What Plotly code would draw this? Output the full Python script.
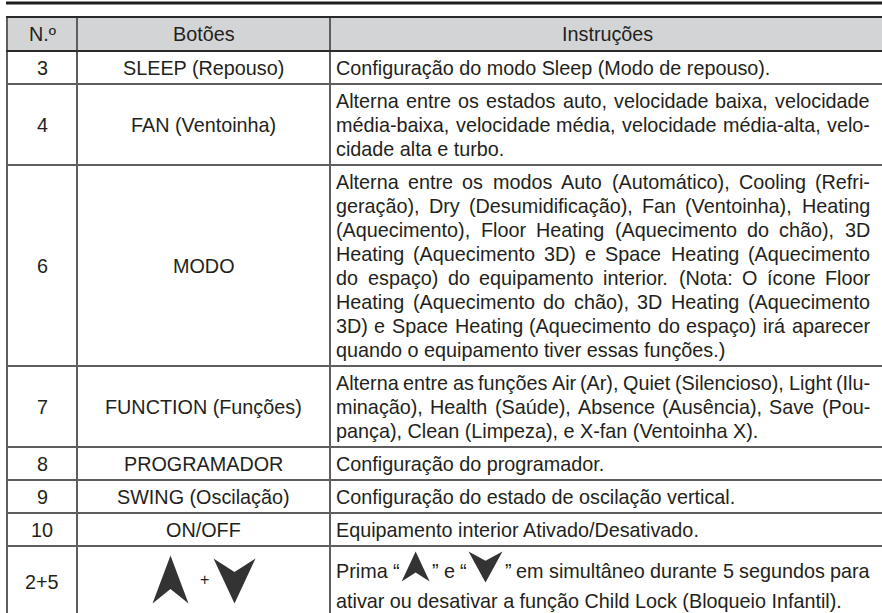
import plotly.graph_objects as go

# ---------------- data ----------------
headers = ["N.º", "Botões", "Instruções"]
numbers = ["3", "4", "6", "7", "8", "9", "10", "2+5"]
buttons = ["SLEEP (Repouso)", "FAN (Ventoinha)", "MODO", "FUNCTION (Funções)",
           "PROGRAMADOR", "SWING (Oscilação)", "ON/OFF", "{UP}+{DOWN}"]
instructions = [
    ["Configuração do modo Sleep (Modo de repouso)."],
    ["Alterna entre os estados auto, velocidade baixa, velocidade",
     "média-baixa, velocidade média, velocidade média-alta, velo-",
     "cidade alta e turbo."],
    ["Alterna entre os modos Auto (Automático), Cooling (Refri-",
     "geração), Dry (Desumidificação), Fan (Ventoinha), Heating",
     "(Aquecimento), Floor Heating (Aquecimento do chão), 3D",
     "Heating (Aquecimento 3D) e Space Heating (Aquecimento",
     "do espaço) do equipamento interior. (Nota: O ícone Floor",
     "Heating (Aquecimento do chão), 3D Heating (Aquecimento",
     "3D) e Space Heating (Aquecimento do espaço) irá aparecer",
     "quando o equipamento tiver essas funções.)"],
    ["Alterna entre as funções Air (Ar), Quiet (Silencioso), Light (Ilu-",
     "minação), Health (Saúde), Absence (Ausência), Save (Pou-",
     "pança), Clean (Limpeza), e X-fan (Ventoinha X)."],
    ["Configuração do programador."],
    ["Configuração do estado de oscilação vertical."],
    ["Equipamento interior Ativado/Desativado."],
    ["Prima “{UP}” e “{DOWN}” em simultâneo durante 5 segundos para",
     "ativar ou desativar a função Child Lock (Bloqueio Infantil)."],
]

# ---------------- style / layout constants ----------------
W, H = 882, 613
FONT = "Arial, 'Liberation Sans', Helvetica, sans-serif"
FS = 19.8
TXT = "#231f20"
GRID = "#5e5e5e"
DARK = "#2a2a2a"
HEAD_BG = "#d3d4d6"

X_LEFT, X_C1, X_C2, X_RIGHT = 7, 77, 330, 884
TXT_L, TXT_R = 336, 870
HEAD_TOP, HEAD_BOT = 17, 51
PAD, LH = 9, 24
ICON_LH = 30

# Arial / Liberation Sans advance widths (1/1000 em)
AW = {' ': 278, '(': 333, ')': 333, ',': 278, '.': 278, '-': 333, '/': 278, ':': 278,
      '+': 584, '“': 333, '”': 333, 'º': 365}
for c in "0123456789":
    AW[c] = 556
AW.update(dict(zip("ABCDEFGHIJKLMNOPQRSTUVWXYZ",
                   [667, 667, 722, 722, 667, 611, 778, 722, 278, 500, 667, 556, 833,
                    722, 778, 667, 778, 722, 667, 611, 722, 667, 944, 667, 667, 611])))
AW.update(dict(zip("abcdefghijklmnopqrstuvwxyz",
                   [556, 556, 500, 556, 556, 278, 556, 556, 222, 222, 500, 222, 833,
                    556, 556, 556, 556, 333, 500, 278, 556, 500, 722, 500, 500, 500])))
for c in "áàãâéêóõôú":
    AW[c] = 556
AW['ç'] = 500
AW['í'] = 278


def tw(s, fs=FS):
    return sum(AW.get(ch, 556) for ch in s) * fs / 1000.0


annotations = []
shapes = []


def text(x, y, s, anchor="left", fs=FS):
    annotations.append(dict(x=x, y=y, xref="x", yref="y", text=s, showarrow=False,
                            xanchor=anchor, yanchor="middle", borderpad=0, borderwidth=0,
                            font=dict(family=FONT, size=fs, color=TXT)))


def arrow_path(kind, cx, top, w, h):
    b = top + h
    if kind == "UP":
        n = b - 0.30 * h
        return (f"M {cx},{top} L {cx + w / 2},{b} L {cx},{n} L {cx - w / 2},{b} Z")
    n = top + 0.30 * h
    return (f"M {cx - w / 2},{top} L {cx},{n} L {cx + w / 2},{top} L {cx},{b} Z")


def icon(kind, cx, top, w, h):
    shapes.append(dict(type="path", xref="x", yref="y", path=arrow_path(kind, cx, top, w, h),
                       fillcolor="#333333", line=dict(width=0)))


INLINE = {"UP": (28, 30), "DOWN": (34, 31)}
IGAP = 2


def split_icons(word):
    parts = []
    rest = word
    while "{" in rest:
        i = rest.index("{")
        j = rest.index("}")
        if i > 0:
            parts.append(("t", rest[:i]))
        parts.append(("i", rest[i + 1:j]))
        rest = rest[j + 1:]
    if rest:
        parts.append(("t", rest))
    return parts


def word_width(word):
    wsum = 0
    for k, v in split_icons(word):
        wsum += tw(v) if k == "t" else INLINE[v][0] + 2 * IGAP
    return wsum


def draw_word(x, y, word):
    for k, v in split_icons(word):
        if k == "t":
            text(x, y, v)
            x += tw(v)
        else:
            w, h = INLINE[v]
            icon(v, x + IGAP + w / 2, y - 19, w, h)
            x += w + 2 * IGAP


def draw_line(y, line, justify):
    words = line.split(" ")
    if not justify and "{" not in line:
        text(TXT_L, y, line)
        return
    widths = [word_width(w) for w in words]
    gap = tw(" ")
    if justify and len(words) > 1:
        gap = (TXT_R - TXT_L - sum(widths)) / (len(words) - 1)
    x = TXT_L
    for w, ww in zip(words, widths):
        draw_word(x, y, w)
        x += ww + gap


def hline(y, x0, x1, color, width):
    shapes.append(dict(type="line", xref="x", yref="y", x0=x0, x1=x1, y0=y, y1=y,
                       line=dict(color=color, width=width)))


def vline(x, y0, y1, color, width):
    shapes.append(dict(type="line", xref="x", yref="y", x0=x, x1=x, y0=y0, y1=y1,
                       line=dict(color=color, width=width)))


# header background
shapes.append(dict(type="rect", xref="x", yref="y", x0=X_LEFT, x1=X_RIGHT, y0=HEAD_TOP,
                   y1=HEAD_BOT, fillcolor=HEAD_BG, line=dict(width=0), layer="below"))

col_centers = [(X_LEFT + X_C1) / 2, (X_C1 + X_C2) / 2, (X_C2 + X_RIGHT) / 2]
for h, cx in zip(headers, col_centers):
    text(cx, (HEAD_TOP + HEAD_BOT) / 2, h, anchor="center")

# body rows
top = HEAD_BOT
row_bounds = []
for num, btn, ins in zip(numbers, buttons, instructions):
    has_icon = "{" in btn
    lh = ICON_LH if has_icon else LH
    height = PAD + lh * len(ins) + (10 if has_icon else 0)
    bot = top + height
    mid = top + (PAD + lh * len(ins)) / 2 + (1 if has_icon else 0)
    text(col_centers[0], mid, num, anchor="center")
    if has_icon:
        cx = col_centers[1]
        icon("UP", cx - 33, mid - 26, 36, 48)
        text(cx + 1, mid - 2, "+", anchor="center", fs=16)
        icon("DOWN", cx + 31, mid - 23, 42, 45)
    else:
        text(col_centers[1], mid, btn, anchor="center")
    first = top + PAD / 2 + LH / 2 + (8 if has_icon else 0)
    for i, line in enumerate(ins):
        draw_line(first + i * lh, line, justify=(i < len(ins) - 1))
    row_bounds.append(bot)
    top = bot

table_bot = row_bounds[-1]
for yb in row_bounds[:-1]:
    hline(yb, X_LEFT, X_RIGHT, GRID, 2)
hline(table_bot, X_LEFT, X_RIGHT, GRID, 2)
for xv in (X_LEFT, X_C1, X_C2, X_RIGHT):
    vline(xv, HEAD_TOP, table_bot, GRID, 2)
hline(HEAD_TOP, X_LEFT - 1, X_RIGHT, DARK, 2)
hline(HEAD_BOT, X_LEFT - 1, X_RIGHT, DARK, 2)
# thick rule at the top of the page
hline(3, 6, W, "#1c1c1c", 3)

fig = go.Figure()
fig.update_layout(
    width=W, height=H, margin=dict(l=0, r=0, t=0, b=0),
    paper_bgcolor="white", plot_bgcolor="white",
    xaxis=dict(range=[0, W], visible=False, fixedrange=True),
    yaxis=dict(range=[H, 0], visible=False, fixedrange=True),
    shapes=shapes, annotations=annotations, showlegend=False,
)
fig.write_html("out.html", config={"displayModeBar": False},
               post_script="document.body.style.margin='0';document.body.style.overflow='hidden';")
